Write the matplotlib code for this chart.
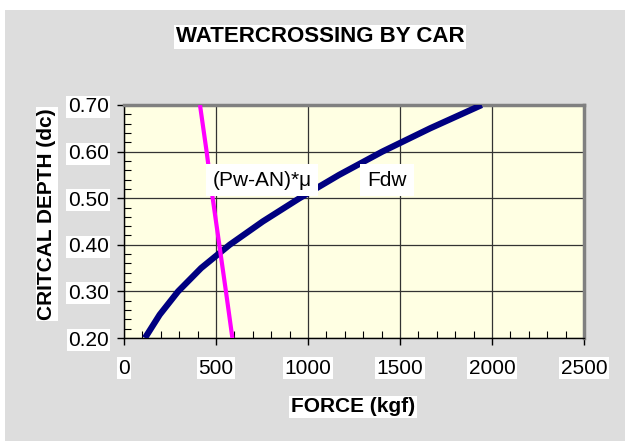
import matplotlib.pyplot as plt
from matplotlib.ticker import MultipleLocator
from matplotlib.patches import Rectangle

plt.rcParams['font.family'] = ['Liberation Sans', 'DejaVu Sans']

# critical depth (dc) vs force (kgf)
depth_fdw = [0.20, 0.25, 0.30, 0.35, 0.40, 0.45, 0.50, 0.55, 0.60, 0.65, 0.70]
force_fdw = [114, 194, 294, 419, 574, 754, 954, 1169, 1404, 1664, 1944]

depth_pw = [0.20, 0.30, 0.40, 0.50, 0.60, 0.70]
force_pw = [589, 554, 518, 482, 449, 413]

x_ticks = [0, 500, 1000, 1500, 2000, 2500]
y_ticks = [0.20, 0.30, 0.40, 0.50, 0.60, 0.70]

fig = plt.figure(figsize=(6.25, 4.41), dpi=100)
fig.patch.set_facecolor('white')
fig.patches.append(Rectangle((5 / 625, 0), 1, 1 - 10 / 441, transform=fig.transFigure,
                             facecolor='#dddddd', edgecolor='none', zorder=-10))

ax = fig.add_axes([124 / 625, 1 - 338 / 441, 460 / 625, 233 / 441])
ax.set_facecolor('#ffffe3')

ax.plot(force_fdw, depth_fdw, color='#000080', lw=4.5, solid_capstyle='butt',
        solid_joinstyle='round', zorder=3)
ax.plot(force_pw, depth_pw, color='#ff00ff', lw=3, solid_capstyle='butt',
        solid_joinstyle='round', zorder=3)

ax.set_xlim(0, 2500)
ax.set_ylim(0.20, 0.70)
ax.set_xticks(x_ticks)
ax.set_yticks(y_ticks)
ax.set_yticklabels(['%.2f' % v for v in y_ticks])
ax.xaxis.set_minor_locator(MultipleLocator(100))
ax.yaxis.set_minor_locator(MultipleLocator(0.02))
ax.tick_params(which='major', direction='out', length=5, width=1, labelsize=15)
ax.tick_params(axis='x', which='major', pad=10)
ax.tick_params(axis='y', which='major', pad=6)
ax.tick_params(which='minor', direction='in', length=5, width=0.8)
for lab in ax.get_xticklabels() + ax.get_yticklabels():
    lab.set_bbox(dict(facecolor='white', edgecolor='none', pad=1))

ax.grid(True, which='major', color='#333333', lw=0.9)
ax.set_axisbelow(True)
for side in ['top', 'right']:
    ax.spines[side].set_color('#808080')
    ax.spines[side].set_linewidth(2.5)
for side in ['left', 'bottom']:
    ax.spines[side].set_color('black')
    ax.spines[side].set_linewidth(1)

ax.text(750, 0.539, '(Pw-AN)*μ', fontsize=15, ha='center', va='center', zorder=4,
        bbox=dict(facecolor='white', edgecolor='none', pad=5))
ax.text(1429, 0.539, 'Fdw', fontsize=15, ha='center', va='center', zorder=4,
        bbox=dict(facecolor='white', edgecolor='none', pad=5))

fig.text(320 / 625, 1 - 37 / 441, 'WATERCROSSING BY CAR', fontsize=16, fontweight='bold',
         ha='center', va='center', bbox=dict(facecolor='white', edgecolor='none', pad=1))
fig.text(353 / 625, 1 - 407 / 441, 'FORCE (kgf)', fontsize=15, fontweight='bold',
         ha='center', va='center', bbox=dict(facecolor='white', edgecolor='none', pad=1))
fig.text(47 / 625, 1 - 214 / 441, 'CRITCAL DEPTH (dc)', fontsize=15, fontweight='bold',
         rotation=90, ha='center', va='center', bbox=dict(facecolor='white', edgecolor='none', pad=1))

fig.savefig('out.png', dpi=100)
